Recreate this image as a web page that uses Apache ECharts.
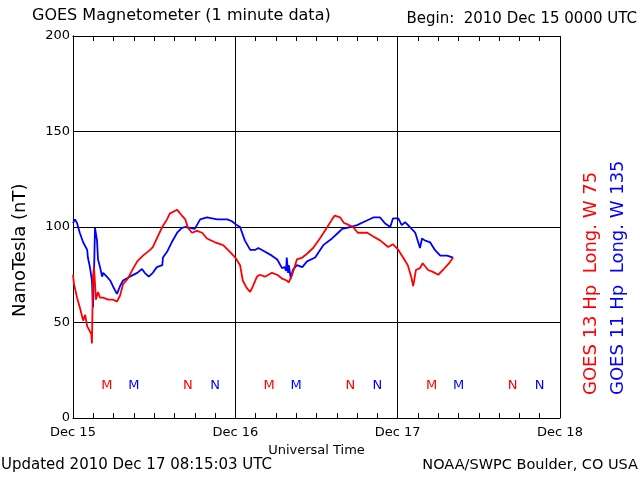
<!DOCTYPE html>
<html>
<head>
<meta charset="utf-8">
<script src="https://cdn.jsdelivr.net/npm/echarts@6/dist/echarts.min.js"></script>
<style>html,body{margin:0;padding:0;background:#fff}#c{width:640px;height:480px}</style>
</head>
<body>
<div id="c"></div>
<script>
// Hours since 2010 Dec 15 00:00 UTC, values in nT
const g11Hours = [0,0.3,0.6,1.0,1.5,2.1,2.2,2.5,2.8,2.96,3.1,3.25,3.55,3.7,4.0,4.3,4.45,5.0,5.5,5.9,6.5,6.95,7.4,8.4,9.5,10.2,10.6,11.2,11.8,12.4,13.2,13.3,13.9,14.6,15.4,16.1,16.6,17.3,18.0,18.8,19.8,21.3,22.8,23.5,24.2,24.7,25.4,26.2,26.9,27.4,28.4,29.4,30.2,30.9,31.3,31.5,31.6,31.8,31.9,32.2,32.5,33.1,33.9,34.6,35.8,37.0,38.3,39.2,39.8,41.0,42.0,42.9,44.4,45.4,46.1,46.9,47.3,48.1,48.6,49.1,49.8,50.6,51.3,51.6,52.0,52.8,53.5,54.3,55.3,56.2];
const g11Values = [102,104,102,97,92,88,84,79,72,58,75,99.5,93,83,79,74,76,74,72,69,65,69,72,74,76,78,76,74,76,79,80,84,87,92,97,99.5,100,99.5,99,104,105,104,104,103,101,100,93,88,88,89,87,85,83,78.5,79,77,84,76,80,73,77.5,80,79,82,84,90.5,94,97,99,100,101,102.5,105,105,102,100,104.5,104.5,101,102.5,100,97,89,94,93,92,88,85,85,84];
const g13Hours = [0,0.15,0.3,0.6,1.0,1.5,1.8,2.1,2.4,2.7,2.8,2.96,3.1,3.4,3.7,4.0,4.45,5.2,5.9,6.5,6.95,7.4,8.1,8.7,9.5,10.35,11.4,11.8,12.4,13.2,13.9,14.3,15.4,16.1,16.6,17.0,17.6,18.3,19.1,19.8,21.0,22.2,23.2,24.0,24.7,25.1,25.7,26.2,26.6,27.2,27.6,28.4,29.4,30.2,30.9,31.6,31.9,32.4,33.1,33.9,34.6,35.5,36.5,37.6,38.3,38.7,39.5,40.1,40.5,41.4,42.1,43.5,44.4,45.4,46.6,47.3,48.1,48.8,49.5,50.0,50.3,50.7,51.3,51.7,52.5,53.2,54.0,54.7,55.7,56.2];
const g13Values = [75,70,69,63,58,51,54,48,46,44,39,74,79,62,66,63,63,62,62,61,64,70,73,77,82,85,88,89.5,94,100,104,107,109,106,104,99.5,97,98,97,94,92,90.5,87,84,80,72,68,66,69,74,75,74,76,75,73,72,71,75,83,84,86,89,94,100,104,106,105,102,101.5,100,97,97,95,93,89.5,91,88,84,80,74,69,77.5,78.5,81,77.5,76.5,75,77.5,81.5,84];
// Local midnight (M) / noon (N) markers
const g13MarkHours = [5,17,29,41,53,65];
const g13MarkText = ['M','N','M','N','M','N'];
const g11MarkHours = [9,21,33,45,57,69];
const g11MarkText = ['M','N','M','N','M','N'];
const markLevel = 16.8;
const xTickDays = ['Dec 15','Dec 16','Dec 17','Dec 18'];

const RED = '#ff0000', BLUE = '#0000ff', FONT = 'DejaVu Sans';
const chart = echarts.init(document.getElementById('c'));
const zip = (a, b) => a.map((v, i) => [v, b[i]]);
const baseX = {type:'value', min:0, max:72};
chart.setOption({
  animation:false,
  backgroundColor:'#fff',
  textStyle:{fontFamily:FONT},
  grid:{left:73, right:80, top:36, bottom:62, containLabel:false},
  xAxis:[
    Object.assign({}, baseX, {position:'bottom', interval:24,
      axisLine:{show:true, lineStyle:{color:'#000', width:1}},
      axisTick:{show:false},
      axisLabel:{color:'#000', fontSize:13, fontFamily:FONT, margin:8, formatter:v => xTickDays[Math.round(v/24)]},
      splitLine:{show:true, lineStyle:{color:'#000', width:1}},
      name:'Universal Time', nameLocation:'middle', nameGap:26,
      nameTextStyle:{color:'#000', fontSize:13, fontFamily:FONT}}),
    Object.assign({}, baseX, {position:'bottom', interval:3,
      axisLine:{show:false}, axisTick:{show:true, inside:true, length:5, lineStyle:{color:'#000'}},
      axisLabel:{show:false}, splitLine:{show:false}}),
    Object.assign({}, baseX, {position:'top', interval:3,
      axisLine:{show:true, lineStyle:{color:'#000', width:1}}, axisTick:{show:true, inside:true, length:5, lineStyle:{color:'#000'}},
      axisLabel:{show:false}, splitLine:{show:false}})
  ],
  yAxis:[
    {type:'value', min:0, max:200, interval:50, position:'left',
      axisLine:{show:true, lineStyle:{color:'#000', width:1}},
      axisTick:{show:false},
      axisLabel:{color:'#000', fontSize:13, fontFamily:FONT, margin:3},
      splitLine:{show:true, lineStyle:{color:'#000', width:1}}},
    {type:'value', min:0, max:200, interval:50, position:'right',
      axisLine:{show:true, lineStyle:{color:'#000', width:1}},
      axisTick:{show:false}, axisLabel:{show:false}, splitLine:{show:false}}
  ],
  series:[
    {type:'line', name:'GOES 11', xAxisIndex:0, yAxisIndex:0, data:zip(g11Hours, g11Values),
      showSymbol:false, symbol:'none', lineStyle:{color:BLUE, width:1.8}, z:3},
    {type:'line', name:'GOES 13', xAxisIndex:0, yAxisIndex:0, data:zip(g13Hours, g13Values),
      showSymbol:false, symbol:'none', lineStyle:{color:RED, width:1.8}, z:4},
    {type:'scatter', xAxisIndex:0, yAxisIndex:0, symbolSize:0, silent:true, itemStyle:{opacity:1},
      data:g13MarkHours.map((h, i) => ({value:[h, markLevel], txt:g13MarkText[i]})),
      label:{show:true, position:'inside', color:RED, opacity:1, fontSize:13, fontFamily:FONT, formatter:p => p.data.txt}},
    {type:'scatter', xAxisIndex:0, yAxisIndex:0, symbolSize:0, silent:true, itemStyle:{opacity:1},
      data:g11MarkHours.map((h, i) => ({value:[h, markLevel], txt:g11MarkText[i]})),
      label:{show:true, position:'inside', color:BLUE, opacity:1, fontSize:13, fontFamily:FONT, formatter:p => p.data.txt}}
  ],
  graphic:[
    {type:'text', left:32, top:8, style:{text:'GOES Magnetometer (1 minute data)', fill:'#000', font:'16px "DejaVu Sans"'}},
    {type:'text', right:3, top:12, style:{text:'Begin:  2010 Dec 15 0000 UTC', fill:'#000', font:'15px "DejaVu Sans"'}},
    {type:'text', left:1, top:458, style:{text:'Updated 2010 Dec 17 08:15:03 UTC', fill:'#000', font:'15px "DejaVu Sans"'}},
    {type:'text', right:2, top:458, style:{text:'NOAA/SWPC Boulder, CO USA', fill:'#000', font:'14.5px "DejaVu Sans"'}},
    {type:'text', x:20, y:317, rotation:Math.PI/2, style:{text:'NanoTesla (nT)', fill:'#000', font:'18px "DejaVu Sans"', textAlign:'left', textVerticalAlign:'middle'}},
    {type:'text', x:591, y:395, rotation:Math.PI/2, style:{text:'GOES 13 Hp  Long. W 75', fill:RED, font:'18px "DejaVu Sans"', textAlign:'left', textVerticalAlign:'middle'}},
    {type:'text', x:618, y:395, rotation:Math.PI/2, style:{text:'GOES 11 Hp  Long. W 135', fill:BLUE, font:'18px "DejaVu Sans"', textAlign:'left', textVerticalAlign:'middle'}}
  ]
});
</script>
</body>
</html>
